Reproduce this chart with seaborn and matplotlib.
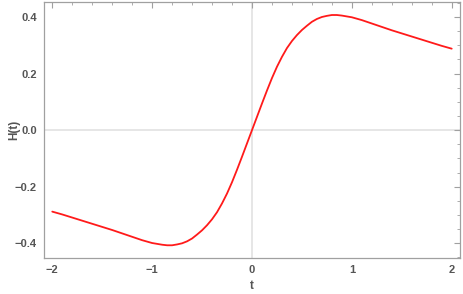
import matplotlib
matplotlib.use("Agg")
import matplotlib.pyplot as plt
import seaborn as sns
import pandas as pd
from matplotlib.ticker import MultipleLocator

# values (right half; the curve is odd-symmetric)
t_right = [0.0, 0.05, 0.1, 0.15, 0.2, 0.25, 0.3, 0.35, 0.4, 0.45, 0.5, 0.55, 0.6, 0.65,
           0.7, 0.75, 0.8, 0.85, 0.9, 1.0, 1.1, 1.2, 1.3, 1.4, 1.5, 1.6, 1.7, 1.8, 1.9, 2.0]
h_right = [0.0, 0.047, 0.094, 0.140, 0.184, 0.224, 0.259, 0.290, 0.315, 0.336, 0.354, 0.369,
           0.383, 0.393, 0.400, 0.404, 0.407, 0.407, 0.405, 0.399, 0.389, 0.377, 0.365,
           0.353, 0.342, 0.331, 0.320, 0.309, 0.298, 0.288]
t_left = [-v for v in t_right[:0:-1]]
h_left = [-v for v in h_right[:0:-1]]
t_vals = t_left + t_right
h_vals = h_left + h_right

x_ticks = [-2, -1, 0, 1, 2]
y_ticks = [-0.4, -0.2, 0.0, 0.2, 0.4]

df = pd.DataFrame({"t": t_vals, "H": h_vals})

sns.set_style("white")
plt.rcParams['font.family'] = ['Liberation Sans', 'DejaVu Sans']

fig = plt.figure(figsize=(4.63, 2.94), dpi=100)
ax = fig.add_axes([0.095, 0.1224, 0.8985, 0.8708])

ax.axhline(0, color="#e6e6e6", lw=1.4, zorder=0)
ax.axvline(0, color="#e6e6e6", lw=1.4, zorder=0)

sns.lineplot(data=df, x="t", y="H", ax=ax, color="#ff1a1a", lw=1.3, sort=False)

ax.set_xlim(-2.083, 2.083)
ax.set_ylim(-0.452, 0.453)
ax.set_xticks(x_ticks)
ax.set_yticks(y_ticks)
ax.set_xticklabels([f"{v:d}".replace("-", "\u2212") for v in x_ticks])
ax.set_yticklabels([f"{v:.1f}".replace("-", "\u2212") for v in y_ticks])
ax.xaxis.set_minor_locator(MultipleLocator(0.2))
ax.yaxis.set_minor_locator(MultipleLocator(0.05))

for s in ax.spines.values():
    s.set_color("#a0a0a0")
    s.set_linewidth(0.9)

ax.tick_params(which="both", direction="in", top=True, right=True, color="#a0a0a0",
               labelcolor="#555555", labelsize=8)
ax.tick_params(which="major", length=4, width=0.8, pad=5)
ax.tick_params(which="minor", length=2, width=0.6)
for lab in ax.get_xticklabels() + ax.get_yticklabels():
    lab.set_fontweight("bold")

ax.set_xlabel("t", color="#555555", fontsize=8.5, fontweight="bold")
ax.set_ylabel("H(t)", color="#555555", fontsize=8.5, fontweight="bold")
ax.xaxis.set_label_coords(0.5, -0.085)
ax.yaxis.set_label_coords(-0.058, 0.5)

fig.savefig("out.png", dpi=100)
